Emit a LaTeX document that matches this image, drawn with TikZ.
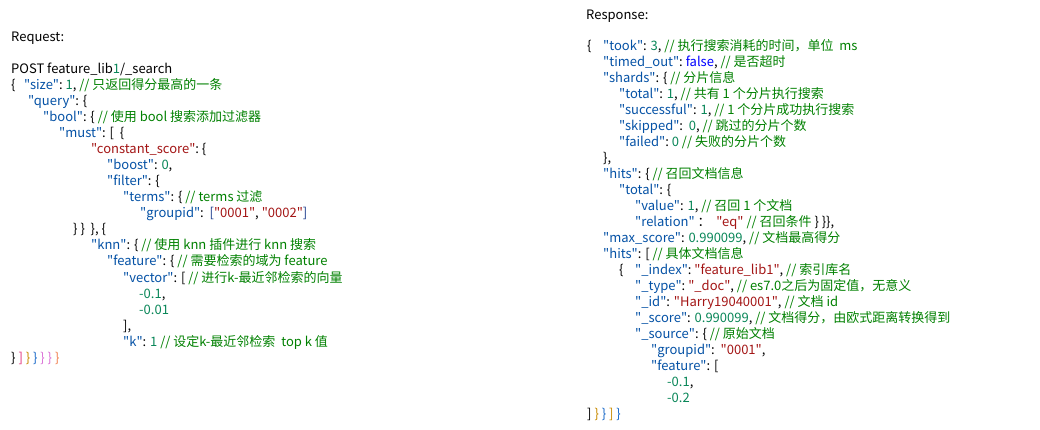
\documentclass[tikz,border=0pt]{standalone}
\usepackage{fontspec}
\newfontfamily\jf{Noto Sans CJK SC}
\definecolor{ckey}{HTML}{0451A5}
\definecolor{cstr}{HTML}{A31515}
\definecolor{cnum}{HTML}{098658}
\definecolor{ccom}{HTML}{008000}
\definecolor{cbool}{HTML}{0000FF}
\definecolor{cnav}{HTML}{1A3A8A}
\definecolor{bgold}{HTML}{C88A00}
\definecolor{borch}{HTML}{DA70D6}
\definecolor{bpink}{HTML}{E0307A}
\definecolor{bblue}{HTML}{1868C8}
\definecolor{boran}{HTML}{F08050}
\newcommand\Kk[1]{\textcolor{ckey}{"#1"}}
\newcommand\Ss[1]{\textcolor{cstr}{"#1"}}
\newcommand\Nn[1]{\textcolor{cnum}{#1}}
\newcommand\Cc[1]{\textcolor{ccom}{#1}}
\newcommand\Bb[1]{\textcolor{cbool}{#1}}
\begin{document}
\begin{tikzpicture}[x=1pt,y=-1pt,
  ln/.style={anchor=base west, inner sep=0pt, font=\jf\fontsize{13}{15}\selectfont}]
\useasboundingbox (0,0) rectangle (1040,429);
% ---------- Request ----------
\node[ln] (l1) at (11,41.5) {Request:};
\node[ln] (l2) at (11,73.5) {POST feature\_lib\textcolor{cnum}{1}/\_search};
\node[ln] (l3a) at (11,89.5) {\{};
\node[ln] (l3) at (24,89.5) {\Kk{size}:~\Nn{1}, \Cc{// 只返回得分最高的一条}};
\node[ln] (l4) at (28,105.5) {\Kk{query}: \{};
\node[ln] (l5) at (43,121.5) {\Kk{bool}: \{ \Cc{// 使用 bool 搜索添加过滤器}};
\node[ln] (l6) at (59,137.5) {\Kk{must}: [~~\{};
\node[ln] (l7) at (91,153.5) {\Ss{constant\_score}:~\{};
\node[ln] (l8) at (107,169.5) {\Kk{boost}: \Nn{0},};
\node[ln] (l9) at (107,185.5) {\Kk{filter}: \{};
\node[ln] (l10) at (123,201.5) {\Kk{terms}: \{ \Cc{// terms 过滤}};
\node[ln] (l11) at (140,217.5) {\Kk{groupid}:~~\textcolor{cnav}{[}\Ss{0001}, \Ss{0002}\textcolor{cnav}{]}};
\node[ln] (l12) at (73,233.5) {\} \}~~\}, \{};
\node[ln] (l13) at (91,249.5) {\Kk{knn}: \{ \Cc{// 使用 knn 插件进行 knn 搜索}};
\node[ln] (l14) at (107,265.5) {\Kk{feature}: \{ \Cc{// 需要检索的域为 feature}};
\node[ln] (l15) at (123,282) {\Kk{vector}: [ \Cc{// 进行k-最近邻检索的向量}};
\node[ln] (l16) at (139,298) {\Nn{-0.1},};
\node[ln] (l17) at (139,314) {\Nn{-0.01}};
\node[ln] (l18) at (123,330) {],};
\node[ln] (l19) at (123,346) {\Kk{k}: \Nn{1} \Cc{// 设定k-最近邻检索~~top k 值}};
\node[ln] (l20) at (11,362) {\} \textcolor{bpink}{]} \textcolor{bgold}{\}} \textcolor{bblue}{\}} \textcolor{borch}{\}} \textcolor{borch}{\}} \textcolor{boran}{\}}};
% ---------- Response ----------
\node[ln] (r1) at (586,19) {Response:};
\node[ln] (r2a) at (587,50.5) {\{};
\node[ln] (r2) at (603,50.5) {\Kk{took}: \Nn{3}, \Cc{// 执行搜索消耗的时间，单位~~ms}};
\node[ln] (r3) at (603,66.5) {\Kk{timed\_out}:~\Bb{false}, \Cc{// 是否超时}};
\node[ln] (r4) at (603,82.5) {\Kk{shards}: \{ \Cc{// 分片信息}};
\node[ln] (r5) at (619,98.5) {\Kk{total}: \Nn{1}, \Cc{// 共有 1 个分片执行搜索}};
\node[ln] (r6) at (619,114.5) {\Kk{successful}: \Nn{1}, \Cc{// 1 个分片成功执行搜索}};
\node[ln] (r7) at (619,130.5) {\Kk{skipped}:~~\Nn{0}, \Cc{// 跳过的分片个数}};
\node[ln] (r8) at (619,146.5) {\Kk{failed}:~\Nn{0} \Cc{// 失败的分片个数}};
\node[ln] (r9) at (603,162.5) {\},};
\node[ln] (r10) at (603,178.5) {\Kk{hits}: \{ \Cc{// 召回文档信息}};
\node[ln] (r11) at (619,194.5) {\Kk{total}: \{};
\node[ln] (r12) at (635,210.5) {\Kk{value}: \Nn{1}, \Cc{// 召回 1 个文档}};
\node[ln] (r13) at (635,226.5) {\textcolor{ckey}{"relation"}~：~~\Ss{eq} \Cc{// 召回条件} \} \}\},};
\node[ln] (r14) at (603,242.5) {\Kk{max\_score}: \Nn{0.990099}, \Cc{// 文档最高得分}};
\node[ln] (r15) at (603,258.5) {\Kk{hits}: [ \Cc{// 具体文档信息}};
\node[ln] (r16a) at (619,274.5) {\{};
\node[ln] (r16) at (635,274.5) {\Kk{\_index}:~\Ss{feature\_lib1}, \Cc{// 索引库名}};
\node[ln] (r17) at (635,290.5) {\Kk{\_type}:~\Ss{\_doc}, \Cc{// es7.0之后为固定值，无意义}};
\node[ln] (r18) at (635,306.5) {\Kk{\_id}: \Ss{Harry19040001}, \Cc{// 文档 id}};
\node[ln] (r19) at (635,322.5) {\Kk{\_score}: \Nn{0.990099}, \Cc{// 文档得分，由欧式距离转换得到}};
\node[ln] (r20) at (635,338.5) {\Kk{\_source}: \{ \Cc{// 原始文档}};
\node[ln] (r21) at (651,354.5) {\Kk{groupid}:~~\Ss{0001},};
\node[ln] (r22) at (651,370.5) {\Kk{feature}: [};
\node[ln] (r23) at (667,386.5) {\Nn{-0.1},};
\node[ln] (r24) at (667,402.5) {\Nn{-0.2}};
\node[ln] (r25) at (587,418.5) {] \textcolor{bgold}{\}} \textcolor{bblue}{\}} \textcolor{bgold}{]} \textcolor{bblue}{\}}};
\end{tikzpicture}
\end{document}
